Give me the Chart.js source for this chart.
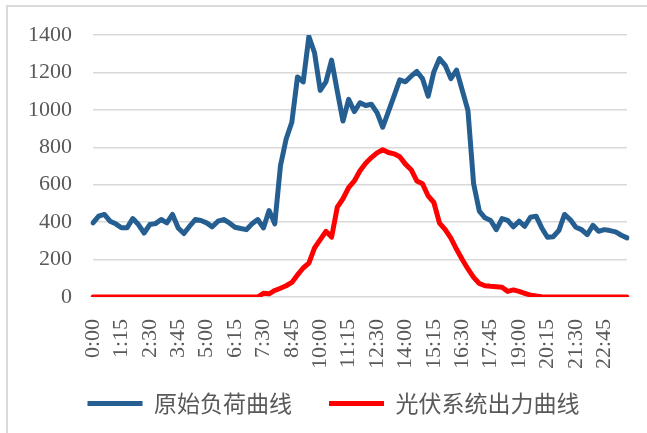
<!DOCTYPE html>
<html>
<head>
<meta charset="utf-8">
<script src="https://cdn.jsdelivr.net/npm/chart.js@4"></script>
<style>
  html, body { margin: 0; padding: 0; background: #fff; overflow: hidden; }
  #frame { position: absolute; left: 6px; top: 5px; width: 700px; height: 500px; border: 2px solid #d9d9d9; }
  #wrap { position: absolute; left: 0; top: 0; width: 647px; height: 433px; }
</style>
</head>
<body>
<div id="frame"></div>
<div id="wrap"><canvas id="load-chart" width="647" height="433"></canvas></div>
<script>
// 15-minute time slots (one slot between 12:30 and 14:00 is missing in the record)
const times = [
  '0:00','0:15','0:30','0:45','1:00','1:15','1:30','1:45','2:00','2:15',
  '2:30','2:45','3:00','3:15','3:30','3:45','4:00','4:15','4:30','4:45',
  '5:00','5:15','5:30','5:45','6:00','6:15','6:30','6:45','7:00','7:15',
  '7:30','7:45','8:00','8:15','8:30','8:45','9:00','9:15','9:30','9:45',
  '10:00','10:15','10:30','10:45','11:00','11:15','11:30','11:45','12:00','12:15',
  '12:30','12:45','13:00','13:30','13:45','14:00','14:15','14:30','14:45','15:00',
  '15:15','15:30','15:45','16:00','16:15','16:30','16:45','17:00','17:15','17:30',
  '17:45','18:00','18:15','18:30','18:45','19:00','19:15','19:30','19:45','20:00',
  '20:15','20:30','20:45','21:00','21:15','21:30','21:45','22:00','22:15','22:30',
  '22:45','23:00','23:15','23:30','23:45'
];

// 原始负荷
const loadValues = [
  396, 432, 441, 405, 391, 370, 370, 419, 387, 342,
  387, 392, 414, 396, 441, 369, 339, 378, 414, 409,
  396, 375, 405, 414, 396, 373, 366, 360, 391, 414,
  369, 462, 391, 701, 844, 934, 1176, 1149, 1391, 1305,
  1104, 1149, 1266, 1100, 940, 1056, 991, 1038, 1023, 1030,
  985, 907, 990, 1075, 1160, 1150, 1180, 1205, 1167, 1073,
  1203, 1274, 1238, 1167, 1212, 1105, 997, 605, 459, 423,
  409, 360, 419, 409, 375, 405, 378, 426, 432, 369,
  319, 322, 355, 441, 414, 373, 360, 333, 383, 351,
  360, 355, 348, 330, 316
];

// 光伏出力
const pvValues = [
  0, 0, 0, 0, 0, 0, 0, 0, 0, 0,
  0, 0, 0, 0, 0, 0, 0, 0, 0, 0,
  0, 0, 0, 0, 0, 0, 0, 0, 0, 0,
  20, 17, 35, 47, 60, 78, 118, 155, 181, 262,
  307, 351, 320, 480, 525, 585, 620, 675, 715, 745,
  770, 787, 772, 765, 750, 710, 680, 620, 605, 540,
  505, 395, 360, 315, 255, 200, 150, 105, 72, 60,
  57, 55, 52, 30, 38, 30, 20, 10, 5, 2,
  0, 0, 0, 0, 0, 0, 0, 0, 0, 0,
  0, 0, 0, 0, 0
];

const yTicks = [0, 200, 400, 600, 800, 1000, 1200, 1400];

const tickFont = { family: "'Liberation Serif', 'Times New Roman', serif", size: 22 };

// nudge the legend a little to the right of the canvas centre
const legendShift = {
  id: 'legendShift',
  afterLayout: function (c) {
    c.legend.left += 20;
    c.legend.right += 20;
  }
};

const ctx = document.getElementById('load-chart').getContext('2d');
const chart = new Chart(ctx, {
  type: 'line',
  data: {
    labels: times,
    datasets: [{
      label: '原始负荷曲线',
      data: loadValues,
      borderColor: '#255E91',
      backgroundColor: '#255E91',
      borderWidth: 5,
      pointRadius: 0,
      tension: 0,
      borderJoinStyle: 'round',
      borderCapStyle: 'round'
    }, {
      label: '光伏系统出力曲线',
      data: pvValues,
      borderColor: '#FF0000',
      backgroundColor: '#FF0000',
      borderWidth: 5,
      pointRadius: 0,
      tension: 0,
      borderJoinStyle: 'round',
      borderCapStyle: 'round'
    }]
  },
  plugins: [legendShift],
  options: {
    responsive: false,
    animation: false,
    layout: { padding: { top: 35, left: 0, right: 20, bottom: 8 } },
    plugins: {
      tooltip: { enabled: false },
      legend: {
        position: 'bottom',
        labels: {
          usePointStyle: true,
          pointStyle: 'line',
          pointStyleWidth: 55,
          padding: 14,
          color: '#595959',
          font: { family: "'Noto Sans CJK SC', sans-serif", size: 23 },
          // keep a wider gap after the first entry
          generateLabels: function (c) {
            const items = Chart.defaults.plugins.legend.labels.generateLabels(c);
            items.forEach((it, i) => {
              if (i < items.length - 1) it.text = it.text + '\u2003';
            });
            return items;
          }
        }
      }
    },
    scales: {
      x: {
        grid: { display: false },
        border: { display: false },
        ticks: {
          autoSkip: false,
          minRotation: 90,
          maxRotation: 90,
          padding: 14,
          color: '#595959',
          font: tickFont,
          callback: function (val, i) {
            return i % 5 === 0 ? times[i] : '';
          }
        },
        afterFit: function (scale) {
          scale.height = 81;
          scale.paddingLeft = 0;
          scale.paddingRight = 0;
        }
      },
      y: {
        min: 0,
        max: 1400,
        border: { display: false },
        grid: { color: '#d9d9d9', lineWidth: 1.5, drawTicks: false },
        afterBuildTicks: function (scale) {
          scale.ticks = yTicks.map(v => ({ value: v }));
        },
        ticks: {
          padding: 21,
          color: '#595959',
          font: tickFont,
          callback: function (val) { return String(val); }
        },
        afterFit: function (scale) { scale.width = 93; }
      }
    }
  }
});
</script>
</body>
</html>
